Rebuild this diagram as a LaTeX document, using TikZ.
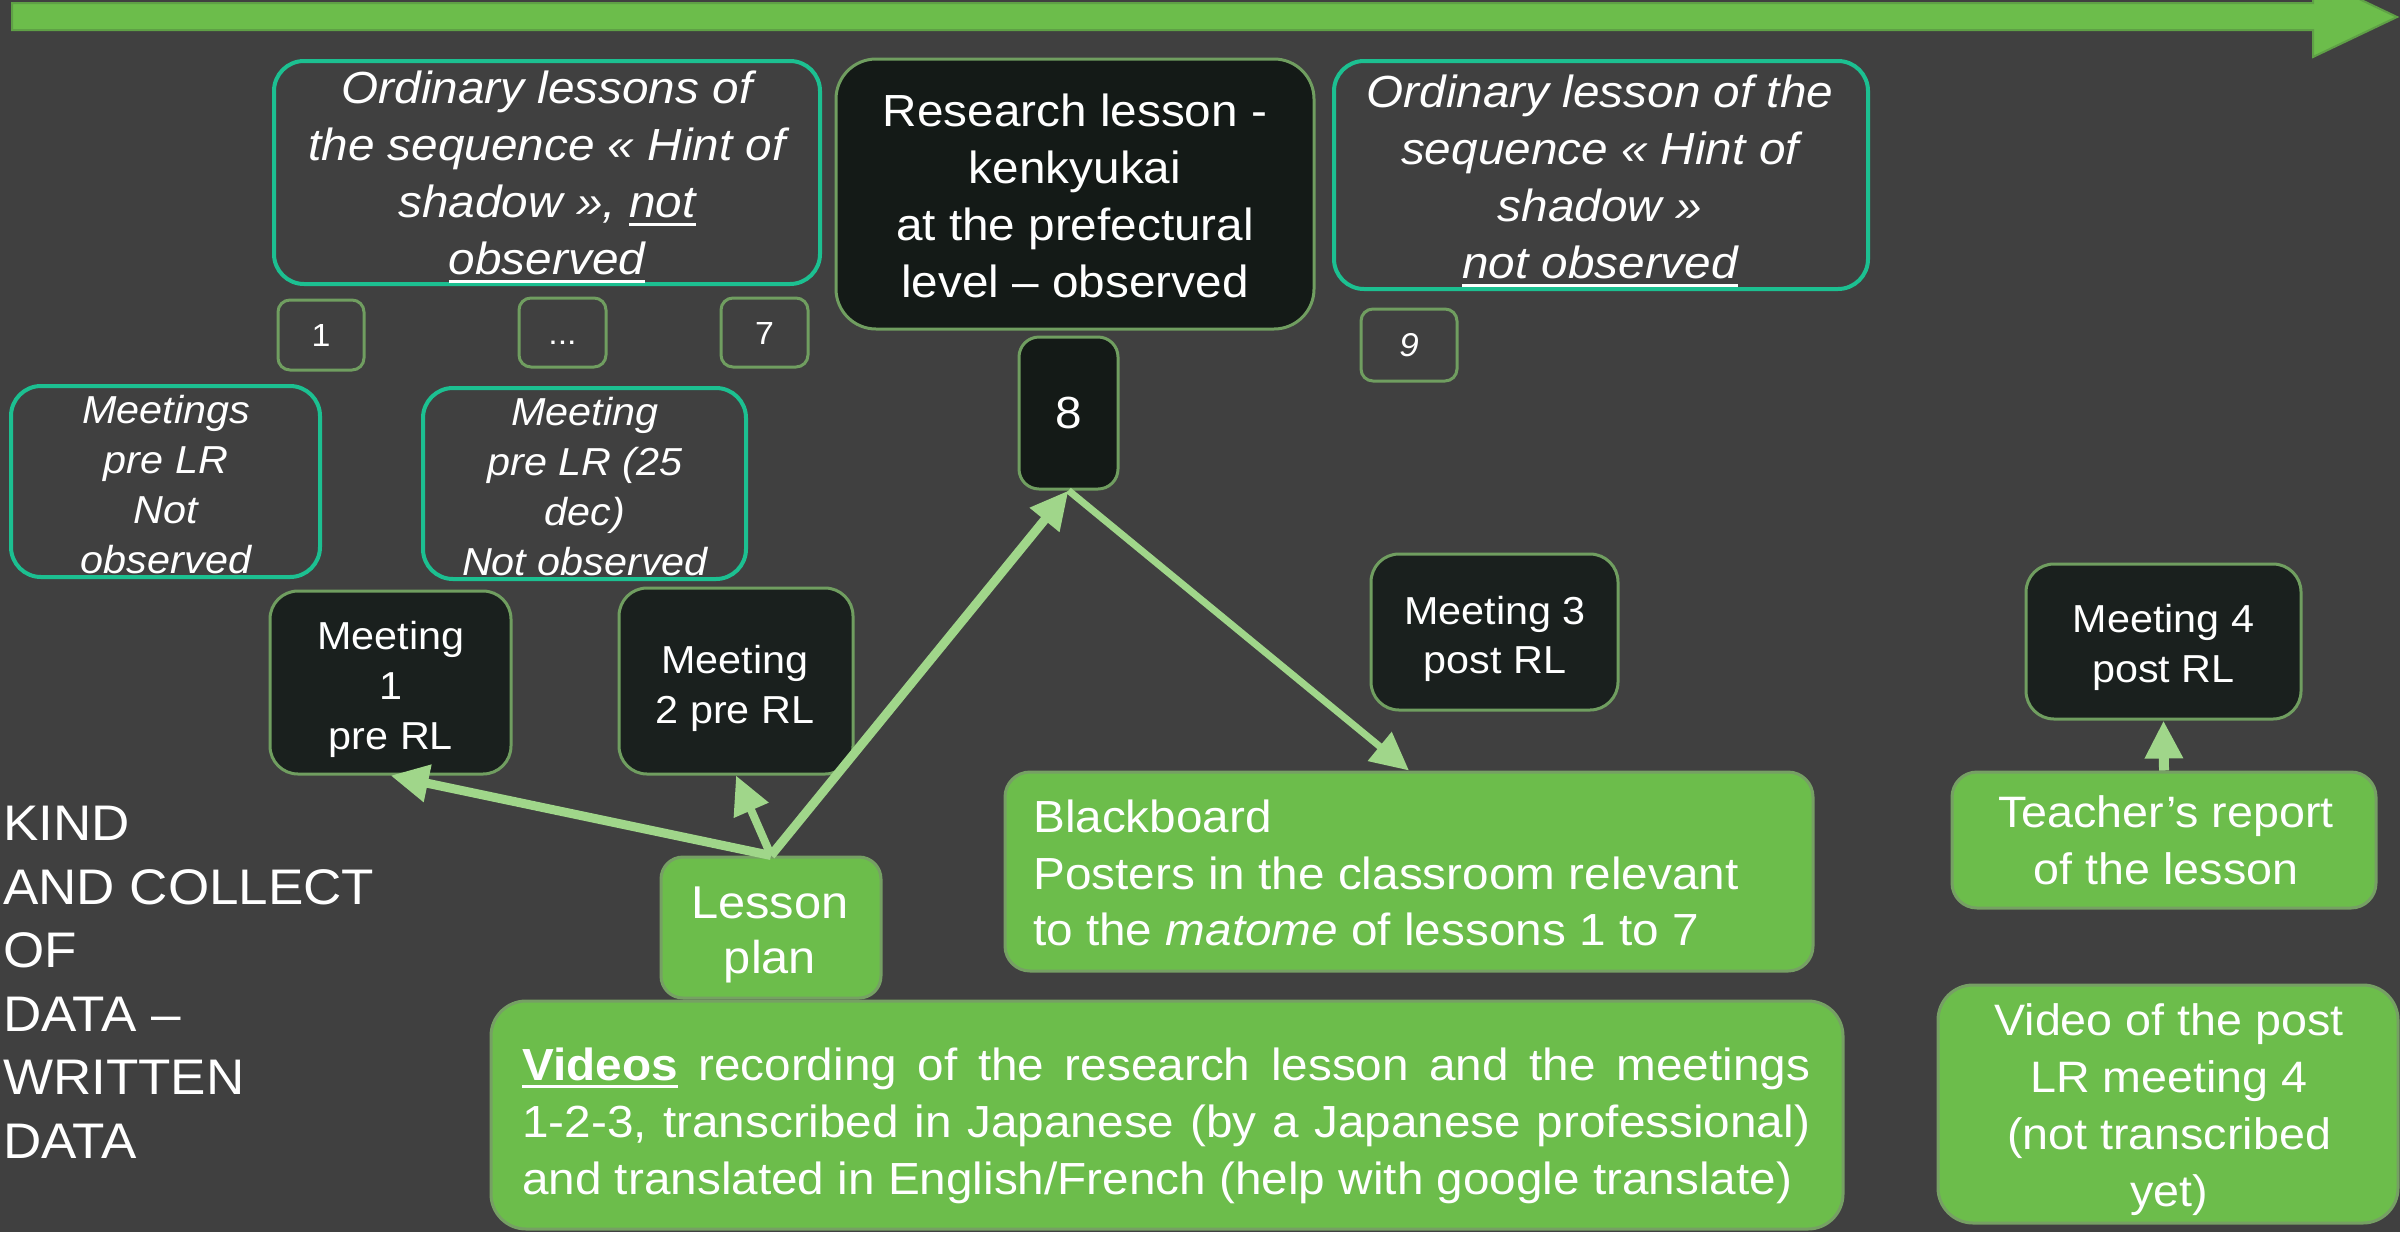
\documentclass[tikz,border=0pt]{standalone}
\usepackage{fontspec}
\setmainfont{Liberation Sans}[FakeStretch=1.06]
\usetikzlibrary{arrows.meta}
\definecolor{bg}{RGB}{64,64,64}
\definecolor{grn}{RGB}{108,189,75}
\definecolor{grnline}{RGB}{118,160,100}
\definecolor{bandline}{RGB}{95,160,70}
\definecolor{darkfill}{RGB}{26,32,30}
\definecolor{stripefill}{RGB}{20,26,23}
\definecolor{mutline}{RGB}{112,158,96}
\definecolor{tealc}{RGB}{28,192,145}
\definecolor{arr}{RGB}{160,214,138}
\newcommand\fs[2]{\fontsize{#1}{#2}\selectfont}
\newcommand\myul[1]{\setbox0=\hbox{#1}\rlap{\rule[-8pt]{\wd0}{3pt}}\box0\relax}
\tikzset{
  tealbox/.style={draw=tealc, line width=4pt, rounded corners=30pt, fill=bg, inner sep=0pt},
  darkbox/.style={draw=mutline, line width=3pt, rounded corners=28pt, fill=darkfill, inner sep=0pt},
  stripebox/.style={draw=mutline, line width=3pt, fill=stripefill, inner sep=0pt},
  numbox/.style={draw=mutline, line width=3pt, rounded corners=12pt, inner sep=0pt, text=white, text height=23pt, text depth=0pt},
  greenbox/.style={draw=grnline, line width=3pt, rounded corners=25pt, fill=grn, inner sep=0pt},
  txt/.style={text=white, align=center, inner sep=0pt},
  conn/.style={draw=arr, line width=9pt, -{Triangle[length=38pt,width=36pt]}},
}
\begin{document}
\begin{tikzpicture}[x=1pt,y=-1pt]
\useasboundingbox (0,0) rectangle (2400,1232);
\fill[bg] (0,0) rectangle (2400,1232);
% timeline arrow
\filldraw[fill=grn, draw=bandline, line width=2pt] (12,3) -- (2313,3) -- (2313,-23) -- (2397,17) -- (2313,57) -- (2313,30) -- (12,30) -- cycle;

% top row boxes
\node[tealbox, minimum width=546pt, minimum height=223pt] (ord1) at (547,172.5) {};
\node[txt, font=\itshape\fs{45}{57}] (ord1t) at (547,177) {Ordinary lessons of\\the sequence «~Hint of\\shadow », \myul{not}\\\myul{observed}};
\node[stripebox, rounded corners=40pt, minimum width=478pt, minimum height=270pt] (rl) at (1075,194) {};
\node[txt, font=\fs{45}{57}] (rlt) at (1075,196) {Research lesson -\\kenkyukai\\at the prefectural\\level – observed};
\node[tealbox, minimum width=534pt, minimum height=228pt] (ord2) at (1601,175) {};
\node[txt, font=\itshape\fs{45}{57}] (ord2t) at (1600,181) {Ordinary lesson of the\\sequence «~Hint of\\shadow »\\\myul{not observed}};

% numbers
\node[numbox, minimum width=86pt, minimum height=70pt, font=\fs{32}{38}] (n1) at (321,335) {1};
\node[numbox, minimum width=87pt, minimum height=69pt, font=\fs{32}{38}] (ndots) at (562.5,332.5) {...};
\node[numbox, minimum width=87pt, minimum height=69pt, font=\fs{32}{38}] (n7) at (764.5,332.5) {7};
\node[numbox, minimum width=96pt, minimum height=72pt, font=\itshape\fs{33}{38}] (n9) at (1409,345) {9};
\node[stripebox, rounded corners=20pt, minimum width=99pt, minimum height=152pt, text=white, font=\fs{45}{57}] (n8) at (1068.5,413) {8};

% meetings not observed
\node[tealbox, minimum width=309pt, minimum height=191pt] (mpre) at (165.5,481.5) {};
\node[txt, font=\itshape\fs{39}{50}] (mpret) at (166,485) {Meetings\\pre LR\\Not\\observed};
\node[tealbox, minimum width=323pt, minimum height=191pt] (m25) at (584.5,483.5) {};
\node[txt, font=\itshape\fs{39}{50}] (m25t) at (585,486.5) {Meeting\\pre LR (25\\dec)\\Not observed};

% meetings
\node[darkbox, minimum width=241pt, minimum height=183pt] (m1) at (390.5,682.5) {};
\node[txt, font=\fs{39}{50}] (m1t) at (391,689) {Meeting\\1\\pre RL};
\node[darkbox, minimum width=234pt, minimum height=186pt] (m2) at (736,681) {};
\node[txt, font=\fs{39}{50}] (m2t) at (735,688) {Meeting\\2 pre RL};
\node[darkbox, minimum width=247pt, minimum height=156pt] (m3) at (1494.5,632) {};
\node[txt, font=\fs{39}{49}] (m3t) at (1495,638.5) {Meeting 3\\post RL};
\node[darkbox, minimum width=275pt, minimum height=155pt] (m4) at (2163.5,641.5) {};
\node[txt, font=\fs{39}{50}] (m4t) at (2163.5,647.5) {Meeting 4\\post RL};

% green data boxes
\node[greenbox, rounded corners=22pt, minimum width=220pt, minimum height=141pt] (lp) at (771,927.5) {};
\node[txt, font=\fs{46}{55}] (lpt) at (770,935) {Lesson\\plan};
\node[greenbox, minimum width=808pt, minimum height=199pt] (bb) at (1409,871.5) {};
\node[txt, align=left, anchor=west, font=\fs{45}{56.5}] (bbt) at (1033,873) {Blackboard\\Posters in the classroom relevant\\to the \textit{matome} of lessons 1 to 7};
\node[greenbox, minimum width=424pt, minimum height=136pt] (tr) at (2164,840) {};
\node[txt, font=\fs{44}{57}] (trt) at (2166,840.5) {Teacher’s report\\of the lesson};
\node[greenbox, rounded corners=35pt, minimum width=460pt, minimum height=238pt] (vp) at (2168,1104) {};
\node[txt, font=\fs{44}{57}] (vpt) at (2169,1110) {Video of the post\\LR meeting 4\\(not transcribed\\yet)};
\node[greenbox, rounded corners=35pt, minimum width=1352pt, minimum height=228pt] (vid) at (1167,1115) {};
\node[txt, align=left, anchor=west, font=\fs{45}{57}] (vidt) at (522,1125.5) {\makebox[1288pt][s]{\myul{\textbf{Videos}} recording of the research lesson and the meetings}\\\makebox[1288pt][s]{1-2-3, transcribed in Japanese (by a Japanese professional)}\\and translated in English/French (help with google translate)};

% side title
\node[txt, align=left, anchor=west, font=\fs{50}{63.5}] (kind) at (3,982.5) {KIND\\AND COLLECT\\OF\\DATA –\\WRITTEN\\DATA};

% connectors
\draw[conn] (lp.north) -- (m1.south);
\draw[conn, line width=8pt] (lp.north) -- (m2.south);
\draw[conn] (lp.north) -- (n8.south);
\draw[conn, line width=7pt] (n8.south) -- (bb.north);
\draw[conn, line width=10pt] (tr.north) -- (m4.south);
\end{tikzpicture}
\end{document}
